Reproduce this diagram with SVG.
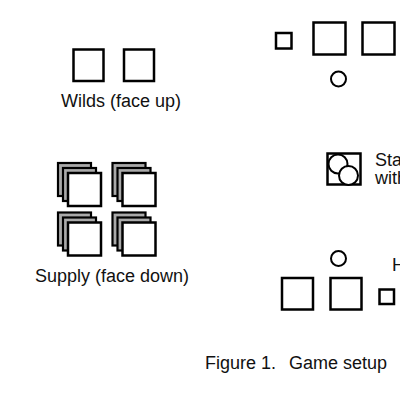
<svg xmlns="http://www.w3.org/2000/svg" width="400" height="400" viewBox="0 0 400 400">
<style>
.c{fill:#fff;stroke:#000;stroke-width:2.5}
.b{fill:#aaa;stroke:#000;stroke-width:2.2}
.o{fill:#fff;stroke:#000;stroke-width:2}
text{font-family:"Liberation Sans",Arial,sans-serif;font-size:18px;fill:#111}
</style>
<defs>
<g id="stack">
<rect class="b" x="-10" y="-10" width="33" height="33"/>
<rect class="b" x="-5" y="-5" width="33" height="33"/>
<rect class="c" x="0" y="0" width="33" height="33"/>
</g>
</defs>
<rect width="400" height="400" fill="#fff"/>
<g id="wilds">
<rect class="c" x="73.5" y="49.5" width="30" height="31.5"/>
<rect class="c" x="124" y="49.5" width="30" height="31.5"/>
<text x="61" y="107">Wilds (face up)</text>
</g>
<g id="supply">
<use href="#stack" x="68" y="173"/>
<use href="#stack" x="122.5" y="173"/>
<use href="#stack" x="68" y="222.5"/>
<use href="#stack" x="122.5" y="222.5"/>
<text x="35" y="282">Supply (face down)</text>
</g>
<g id="top-player">
<rect class="c" x="276" y="33" width="15.5" height="15.5"/>
<rect class="c" x="313.5" y="22.5" width="32" height="32"/>
<rect class="c" x="362.5" y="22.5" width="32" height="32"/>
<circle class="o" cx="338.5" cy="79" r="7.5"/>
</g>
<g id="stack-icon">
<rect class="c" x="327.5" y="153.5" width="33" height="31"/>
<circle class="o" cx="338" cy="164" r="9.5"/>
<circle class="o" cx="348.5" cy="175.5" r="9.5"/>
<text x="375" y="166">Sta</text>
<text x="375" y="184">with</text>
</g>
<g id="bottom-player">
<circle class="o" cx="338.5" cy="258.5" r="7.5"/>
<rect class="c" x="282" y="278" width="31" height="31.5"/>
<rect class="c" x="330.5" y="278" width="31" height="31.5"/>
<rect class="c" x="379.5" y="289.5" width="14.5" height="14.5"/>
<text x="392" y="271">H</text>
</g>
<text y="369" font-size="19.5"><tspan x="205">Figure 1.</tspan><tspan x="289">Game setup</tspan></text>
</svg>
